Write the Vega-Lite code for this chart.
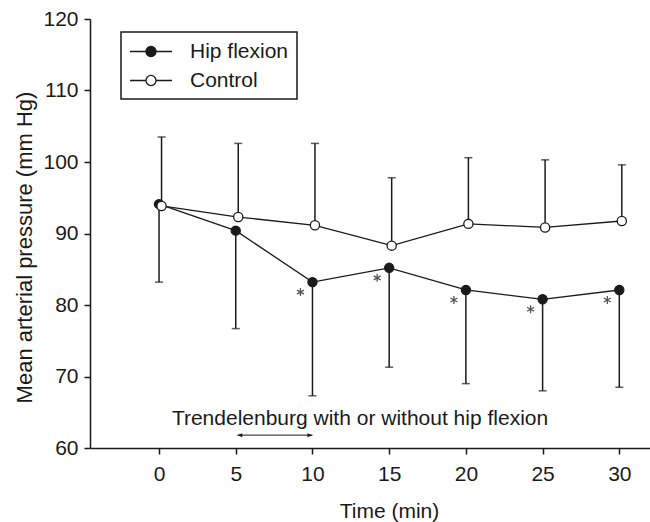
{
  "$schema": "https://vega.github.io/schema/vega-lite/v6.json",
  "width": 560,
  "height": 429,
  "autosize": {"type": "none"},
  "padding": {"left": 90, "top": 19, "right": 0, "bottom": 74},
  "background": "white",
  "config": {
    "view": {"stroke": null},
    "font": "Liberation Sans",
    "axis": {"grid": false, "domainColor": "#1a1a1a", "domainWidth": 1.5, "tickColor": "#1a1a1a", "tickWidth": 1.5, "tickSize": 6, "labelFont": "Liberation Sans", "labelFontSize": 21, "labelColor": "#1a1a1a", "titleFont": "Liberation Sans", "titleFontSize": 21, "titleFontWeight": "normal", "titleColor": "#1a1a1a"}
  },
  "datasets": {
    "map": [
      {"series": "Hip flexion", "time": 0, "mean": 94.1, "end": 83.2, "sig": false},
      {"series": "Hip flexion", "time": 5, "mean": 90.4, "end": 76.7, "sig": false},
      {"series": "Hip flexion", "time": 10, "mean": 83.2, "end": 67.3, "sig": true},
      {"series": "Hip flexion", "time": 15, "mean": 85.2, "end": 71.3, "sig": true},
      {"series": "Hip flexion", "time": 20, "mean": 82.1, "end": 69.0, "sig": true},
      {"series": "Hip flexion", "time": 25, "mean": 80.8, "end": 68.0, "sig": true},
      {"series": "Hip flexion", "time": 30, "mean": 82.1, "end": 68.5, "sig": true},
      {"series": "Control", "time": 0, "mean": 93.85, "end": 103.5, "sig": false},
      {"series": "Control", "time": 5, "mean": 92.3, "end": 102.6, "sig": false},
      {"series": "Control", "time": 10, "mean": 91.15, "end": 102.6, "sig": false},
      {"series": "Control", "time": 15, "mean": 88.3, "end": 97.8, "sig": false},
      {"series": "Control", "time": 20, "mean": 91.35, "end": 100.6, "sig": false},
      {"series": "Control", "time": 25, "mean": 90.85, "end": 100.3, "sig": false},
      {"series": "Control", "time": 30, "mean": 91.75, "end": 99.6, "sig": false}
    ],
    "note": [{"label": "Trendelenburg with or without hip flexion", "time": 13.1, "value": 63.2}],
    "arrow": [{"start": 5.1, "stop": 10, "value": 61.8}]
  },
  "data": {"name": "map"},
  "encoding": {
    "x": {"field": "time", "type": "quantitative", "scale": {"domain": [-4.5, 32], "nice": false, "zero": false},
      "axis": {"values": [0, 5, 10, 15, 20, 25, 30], "labelPadding": 9, "title": "Time (min)", "titleX": 299, "titleY": 69, "titleAlign": "center", "titleBaseline": "alphabetic", "titleAnchor": null}},
    "y": {"field": "mean", "type": "quantitative", "scale": {"domain": [60, 120], "nice": false, "zero": false},
      "axis": {"values": [60, 70, 80, 90, 100, 110, 120], "labelPadding": 6, "title": "Mean arterial pressure (mm Hg)", "titleFontSize": 22, "titleX": -59, "titleY": 228, "titleAngle": 270, "titleAlign": "center", "titleBaseline": "alphabetic"}}
  },
  "layer": [
    {"transform": [{"filter": "datum.series === 'Hip flexion'"}],
     "mark": {"type": "rule", "color": "#1a1a1a", "strokeWidth": 1.5},
     "encoding": {"y2": {"field": "end"}}},
    {"transform": [{"filter": "datum.series === 'Hip flexion'"}],
     "mark": {"type": "tick", "orient": "horizontal", "color": "#1a1a1a", "size": 8, "thickness": 1.5},
     "encoding": {"y": {"field": "end", "type": "quantitative"}}},
    {"transform": [{"filter": "datum.series === 'Control'"}],
     "mark": {"type": "rule", "color": "#1a1a1a", "strokeWidth": 1.5, "xOffset": 2.5},
     "encoding": {"y2": {"field": "end"}}},
    {"transform": [{"filter": "datum.series === 'Control'"}],
     "mark": {"type": "tick", "orient": "horizontal", "color": "#1a1a1a", "size": 8, "thickness": 1.5, "xOffset": 2.5},
     "encoding": {"y": {"field": "end", "type": "quantitative"}}},
    {"transform": [{"filter": "datum.series === 'Hip flexion'"}],
     "mark": {"type": "line", "color": "#1a1a1a", "strokeWidth": 1.3},
     "encoding": {}},
    {"transform": [{"filter": "datum.series === 'Control'"}],
     "mark": {"type": "line", "color": "#1a1a1a", "strokeWidth": 1.3, "xOffset": 2.5},
     "encoding": {}},
    {"transform": [{"filter": "datum.series === 'Hip flexion'"}],
     "mark": {"type": "point", "filled": true, "size": 85, "stroke": "#1a1a1a", "strokeWidth": 1.2, "opacity": 1},
     "encoding": {"fill": {"field": "series", "type": "nominal",
        "scale": {"domain": ["Hip flexion", "Control"], "range": ["#1a1a1a", "#ffffff"]},
        "legend": {"title": null, "orient": "none", "legendX": 31, "legendY": 13,
          "symbolType": "M-1,0L0.52,0M1.48,0L3,0M1.48,0A0.48,0.48,0,1,1,0.52,0A0.48,0.48,0,1,1,1.48,0Z",
          "symbolSize": 441, "symbolStrokeColor": "#1a1a1a", "symbolStrokeWidth": 1.3, "symbolOpacity": 1,
          "labelFont": "Liberation Sans", "labelFontSize": 21, "labelColor": "#1a1a1a", "labelOffset": 38,
          "strokeColor": "#1a1a1a", "padding": 8, "rowPadding": 7,
          "encode": {"legend": {"update": {"strokeWidth": {"value": 1.5}}}}}}}},
    {"transform": [{"filter": "datum.series === 'Control'"}],
     "mark": {"type": "point", "filled": true, "size": 85, "stroke": "#1a1a1a", "strokeWidth": 1.3, "opacity": 1, "xOffset": 2.5},
     "encoding": {"fill": {"field": "series", "type": "nominal"}}},
    {"transform": [{"filter": "datum.sig"}],
     "mark": {"type": "point", "shape": "M0,-1L0,1M-0.87,-0.5L0.87,0.5M-0.87,0.5L0.87,-0.5", "size": 64, "filled": false, "stroke": "#555555", "strokeWidth": 1.3, "opacity": 1, "xOffset": -12, "yOffset": 10},
     "encoding": {}},
    {"data": {"name": "note"},
     "mark": {"type": "text", "fontSize": 21, "color": "#1a1a1a", "align": "center", "baseline": "alphabetic"},
     "encoding": {"x": {"field": "time", "type": "quantitative"}, "y": {"field": "value", "type": "quantitative"}, "text": {"field": "label"}}},
    {"data": {"name": "arrow"},
     "mark": {"type": "rule", "color": "#1a1a1a", "strokeWidth": 1},
     "encoding": {"x": {"field": "start", "type": "quantitative"}, "x2": {"field": "stop"}, "y": {"field": "value", "type": "quantitative"}}},
    {"data": {"name": "arrow"},
     "mark": {"type": "point", "shape": "M0,0L1,-0.4L1,0.4Z", "size": 100, "filled": true, "color": "#1a1a1a", "opacity": 1},
     "encoding": {"x": {"field": "start", "type": "quantitative"}, "y": {"field": "value", "type": "quantitative"}}},
    {"data": {"name": "arrow"},
     "mark": {"type": "point", "shape": "M0,0L-1,-0.4L-1,0.4Z", "size": 100, "filled": true, "color": "#1a1a1a", "opacity": 1},
     "encoding": {"x": {"field": "stop", "type": "quantitative"}, "y": {"field": "value", "type": "quantitative"}}}
  ]
}
